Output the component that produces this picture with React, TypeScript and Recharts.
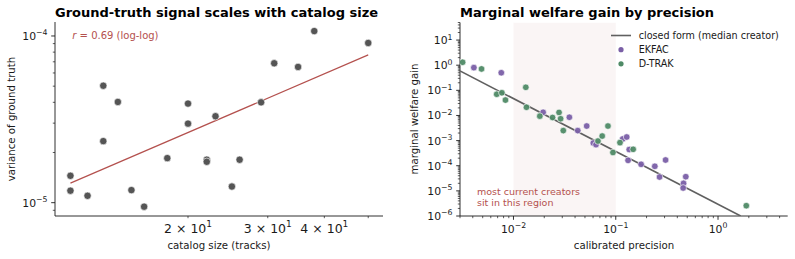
import React from 'react';
import { ScatterChart, Scatter, XAxis, YAxis, ReferenceArea } from 'recharts';

const FONT = '"DejaVu Sans", sans-serif';
const INK = '#1a1a1a';
const ACCENT = '#b4514e';
const EKFAC_COLOR = '#7a5fa6';
const DTRAK_COLOR = '#4f8a66';
const CLOSED_COLOR = '#606060';

// ---- left panel: catalog size vs. ground-truth variance ----
const catalogSize = [11, 11, 12, 13, 13, 14, 15, 16, 18, 20, 20, 22, 22, 23, 25, 26, 29, 31, 35, 38, 50];
const gtVariance = [
  1.45e-5, 1.18e-5, 1.1e-5, 5.03e-5, 2.34e-5, 4.02e-5, 1.19e-5, 9.46e-6, 1.85e-5, 3.93e-5,
  2.98e-5, 1.81e-5, 1.76e-5, 3.3e-5, 1.25e-5, 1.81e-5, 4.0e-5, 6.86e-5, 6.52e-5, 1.07e-4, 9.08e-5,
];
const fitSize = [11, 50];
const fitVariance = [1.31e-5, 7.7e-5];

// ---- right panel: welfare gain vs. calibrated precision ----
const ekfacPrecision = [
  0.0041, 0.0076, 0.0195, 0.0352, 0.0425, 0.052, 0.0603, 0.0641, 0.117, 0.128,
  0.1355, 0.132, 0.177, 0.241, 0.307, 0.268, 0.484, 0.46, 0.456,
];
const ekfacGain = [
  0.8, 0.5, 0.0134, 0.0085, 0.0025, 0.0038, 0.0008, 0.00069, 0.00116, 0.00139,
  0.00044, 0.000164, 0.000114, 9.5e-5, 0.000169, 3.56e-5, 3.66e-5, 2.0e-5, 1.3e-5,
];
const dtrakPrecision = [
  0.00318, 0.00487, 0.00686, 0.0077, 0.00835, 0.0132, 0.0134, 0.0181, 0.0241, 0.0279,
  0.0289, 0.0307, 0.0839, 0.067, 0.0737, 0.0939, 0.11, 0.148, 1.89,
];
const dtrakGain = [
  1.31, 0.71, 0.07, 0.08, 0.041, 0.132, 0.0212, 0.0094, 0.0083, 0.0132,
  0.0074, 0.0025, 0.0038, 0.00096, 0.00152, 0.000336, 0.00083, 0.00045, 2.57e-6,
];
const closedPrecision = [0.003, 1.665];
const closedGain = [0.59, 1e-6];

// axis limits and labelled ticks
const leftXDomain = [10.17, 53.9];
const leftYDomain = [8.32e-6, 1.213e-4];
const leftXTicks = [20, 30, 40, 50];
const leftXLabels = [20, 30, 40];
const leftYLabels = [1e-5, 1e-4];
const rightXDomain = [0.003, 4.8];
const rightYDomain = [1e-6, 50];
const rightXLabels = [0.01, 0.1, 1];
const rightYLabels = [1e-6, 1e-5, 1e-4, 1e-3, 1e-2, 1e-1, 1, 10];

const zip = (xs: number[], ys: number[]) => xs.map((x, i) => ({ x, y: ys[i] }));

// every m * 10^k inside [lo, hi]
function logTicks(lo: number, hi: number) {
  const out: number[] = [];
  for (let e = Math.floor(Math.log10(lo)); e <= Math.ceil(Math.log10(hi)); e++) {
    for (let m = 1; m <= 9; m++) {
      const v = Number((m * Math.pow(10, e)).toPrecision(6));
      if (v >= lo * (1 - 1e-9) && v <= hi * (1 + 1e-9)) out.push(v);
    }
  }
  return out;
}

const isDecade = (v: number) => Math.abs(Math.log10(v) - Math.round(Math.log10(v))) < 1e-6;
const has = (list: number[], v: number) => list.some((l) => Math.abs(l - v) / v < 1e-6);

function SciLabel({ v, fontSize }: { v: number; fontSize: number }) {
  const exp = Math.floor(Math.log10(v) + 1e-9);
  const mant = Math.round(v / Math.pow(10, exp));
  const sup = exp < 0 ? `\u2212${-exp}` : `${exp}`;
  return (
    <>
      {mant !== 1 && `${mant} × `}10
      <tspan dy={-fontSize * 0.42} fontSize={fontSize * 0.72}>
        {sup}
      </tspan>
    </>
  );
}

const BottomTick = (props: any) => {
  const { x, y, payload, labels, fontSize, major } = props;
  const v = payload.value;
  const big = major && isDecade(v);
  return (
    <g>
      <line x1={x} x2={x} y1={y} y2={y + (big ? 3.8 : 2.2)} stroke={INK} strokeWidth={big ? 0.9 : 0.7} />
      {has(labels, v) && (
        <text x={x} y={y + 16.5} textAnchor="middle" fontSize={fontSize} fill={INK} fontFamily={FONT}>
          <SciLabel v={v} fontSize={fontSize} />
        </text>
      )}
    </g>
  );
};

const LeftTick = (props: any) => {
  const { x, y, payload, labels, fontSize } = props;
  const v = payload.value;
  const big = isDecade(v);
  const len = big ? 3.8 : 2.2;
  return (
    <g>
      <line x1={x - len} x2={x} y1={y} y2={y} stroke={INK} strokeWidth={big ? 0.9 : 0.7} />
      {has(labels, v) && (
        <text x={x - 7.5} y={y + 4} textAnchor="end" fontSize={fontSize} fill={INK} fontFamily={FONT}>
          <SciLabel v={v} fontSize={fontSize} />
        </text>
      )}
    </g>
  );
};

const dot = (r: number, fill: string, opacity: number) => (p: any) => (
  <circle cx={p.cx} cy={p.cy} r={r} fill={fill} fillOpacity={opacity} stroke="#ffffff" strokeOpacity={0.7} strokeWidth={0.9} />
);
const noDot = () => <g />;

const axisLine = { stroke: INK, strokeWidth: 0.9 };

export default function App() {
  const leftPoints = zip(catalogSize, gtVariance);
  const fitRows = zip(fitSize, fitVariance);
  const ekfacRows = zip(ekfacPrecision, ekfacGain);
  const dtrakRows = zip(dtrakPrecision, dtrakGain);
  const closedRows = zip(closedPrecision, closedGain);

  return (
    <div style={{ position: 'absolute', left: 0, top: 0, width: 795, height: 259, background: '#fff', fontFamily: FONT }}>
      <div style={{ position: 'absolute', left: 0, top: 0 }}>
        <ScatterChart width={400} height={259} margin={{ top: 22, right: 17, bottom: 13, left: 0 }}>
          <XAxis
            type="number"
            dataKey="x"
            scale="log"
            domain={leftXDomain}
            allowDataOverflow
            ticks={leftXTicks}
            interval={0}
            tickSize={0}
            tickMargin={0}
            tickLine={false}
            axisLine={axisLine}
            height={30}
            tick={(p: any) => <BottomTick {...p} labels={leftXLabels} fontSize={12.5} major={false} />}
          />
          <YAxis
            type="number"
            dataKey="y"
            scale="log"
            domain={leftYDomain}
            allowDataOverflow
            ticks={logTicks(leftYDomain[0], leftYDomain[1])}
            interval={0}
            tickSize={0}
            tickMargin={0}
            tickLine={false}
            axisLine={axisLine}
            width={55}
            tick={(p: any) => <LeftTick {...p} labels={leftYLabels} fontSize={10.8} />}
          />
          <Scatter data={fitRows} line={{ stroke: ACCENT, strokeWidth: 1.2 }} shape={noDot} isAnimationActive={false} />
          <Scatter data={leftPoints} shape={dot(3.7, '#555555', 1)} isAnimationActive={false} />
        </ScatterChart>
      </div>

      <div style={{ position: 'absolute', left: 400, top: 0 }}>
        <ScatterChart width={395} height={259} margin={{ top: 22.5, right: 7.3, bottom: 13, left: 0 }}>
          <ReferenceArea x1={0.01} x2={0.1} fill="#b05050" fillOpacity={0.06} stroke="none" ifOverflow="hidden" />
          <XAxis
            type="number"
            dataKey="x"
            scale="log"
            domain={rightXDomain}
            allowDataOverflow
            ticks={logTicks(rightXDomain[0], rightXDomain[1])}
            interval={0}
            tickSize={0}
            tickMargin={0}
            tickLine={false}
            axisLine={axisLine}
            height={30}
            tick={(p: any) => <BottomTick {...p} labels={rightXLabels} fontSize={10.8} major />}
          />
          <YAxis
            type="number"
            dataKey="y"
            scale="log"
            domain={rightYDomain}
            allowDataOverflow
            ticks={logTicks(rightYDomain[0], rightYDomain[1])}
            interval={0}
            tickSize={0}
            tickMargin={0}
            tickLine={false}
            axisLine={axisLine}
            width={60}
            tick={(p: any) => <LeftTick {...p} labels={rightYLabels} fontSize={10.8} />}
          />
          <Scatter data={closedRows} line={{ stroke: CLOSED_COLOR, strokeWidth: 1.6 }} shape={noDot} isAnimationActive={false} />
          <Scatter data={ekfacRows} shape={dot(3.3, EKFAC_COLOR, 0.95)} isAnimationActive={false} />
          <Scatter data={dtrakRows} shape={dot(3.3, DTRAK_COLOR, 0.95)} isAnimationActive={false} />
        </ScatterChart>
      </div>

      {/* titles, axis labels, notes and legend */}
      <svg width={795} height={259} style={{ position: 'absolute', left: 0, top: 0, pointerEvents: 'none' }} fontFamily={FONT}>
        <text x={55} y={16.5} fontSize={13} fontWeight="bold" fill="#000">
          Ground-truth signal scales with catalog size
        </text>
        <text x={460} y={16.5} fontSize={13} fontWeight="bold" fill="#000">
          Marginal welfare gain by precision
        </text>

        <text x={219} y={249} fontSize={10.2} textAnchor="middle" fill={INK}>
          catalog size (tracks)
        </text>
        <text transform="translate(15,119) rotate(-90)" fontSize={10.2} textAnchor="middle" fill={INK}>
          variance of ground truth
        </text>
        <text x={624} y={249} fontSize={10.2} textAnchor="middle" fill={INK}>
          calibrated precision
        </text>
        <text transform="translate(417.5,119) rotate(-90)" fontSize={10.2} textAnchor="middle" fill={INK}>
          marginal welfare gain
        </text>

        <text x={72.3} y={39} fontSize={10} fill={ACCENT}>
          <tspan fontStyle="italic">r</tspan> = 0.69 (log-log)
        </text>
        <text x={477} y={195} fontSize={9.5} fill={ACCENT}>
          most current creators
        </text>
        <text x={477} y={205.5} fontSize={9.5} fill={ACCENT}>
          sit in this region
        </text>

        <line x1={611} x2={631} y1={35.5} y2={35.5} stroke={CLOSED_COLOR} strokeWidth={1.6} />
        <text x={638.7} y={38.9} fontSize={9.6} fill={INK}>closed form (median creator)</text>
        <circle cx={621} cy={49.7} r={2.6} fill={EKFAC_COLOR} />
        <text x={638.7} y={53.1} fontSize={9.6} fill={INK}>EKFAC</text>
        <circle cx={621} cy={63.8} r={2.6} fill={DTRAK_COLOR} />
        <text x={638.7} y={67.2} fontSize={9.6} fill={INK}>D-TRAK</text>
      </svg>
    </div>
  );
}
